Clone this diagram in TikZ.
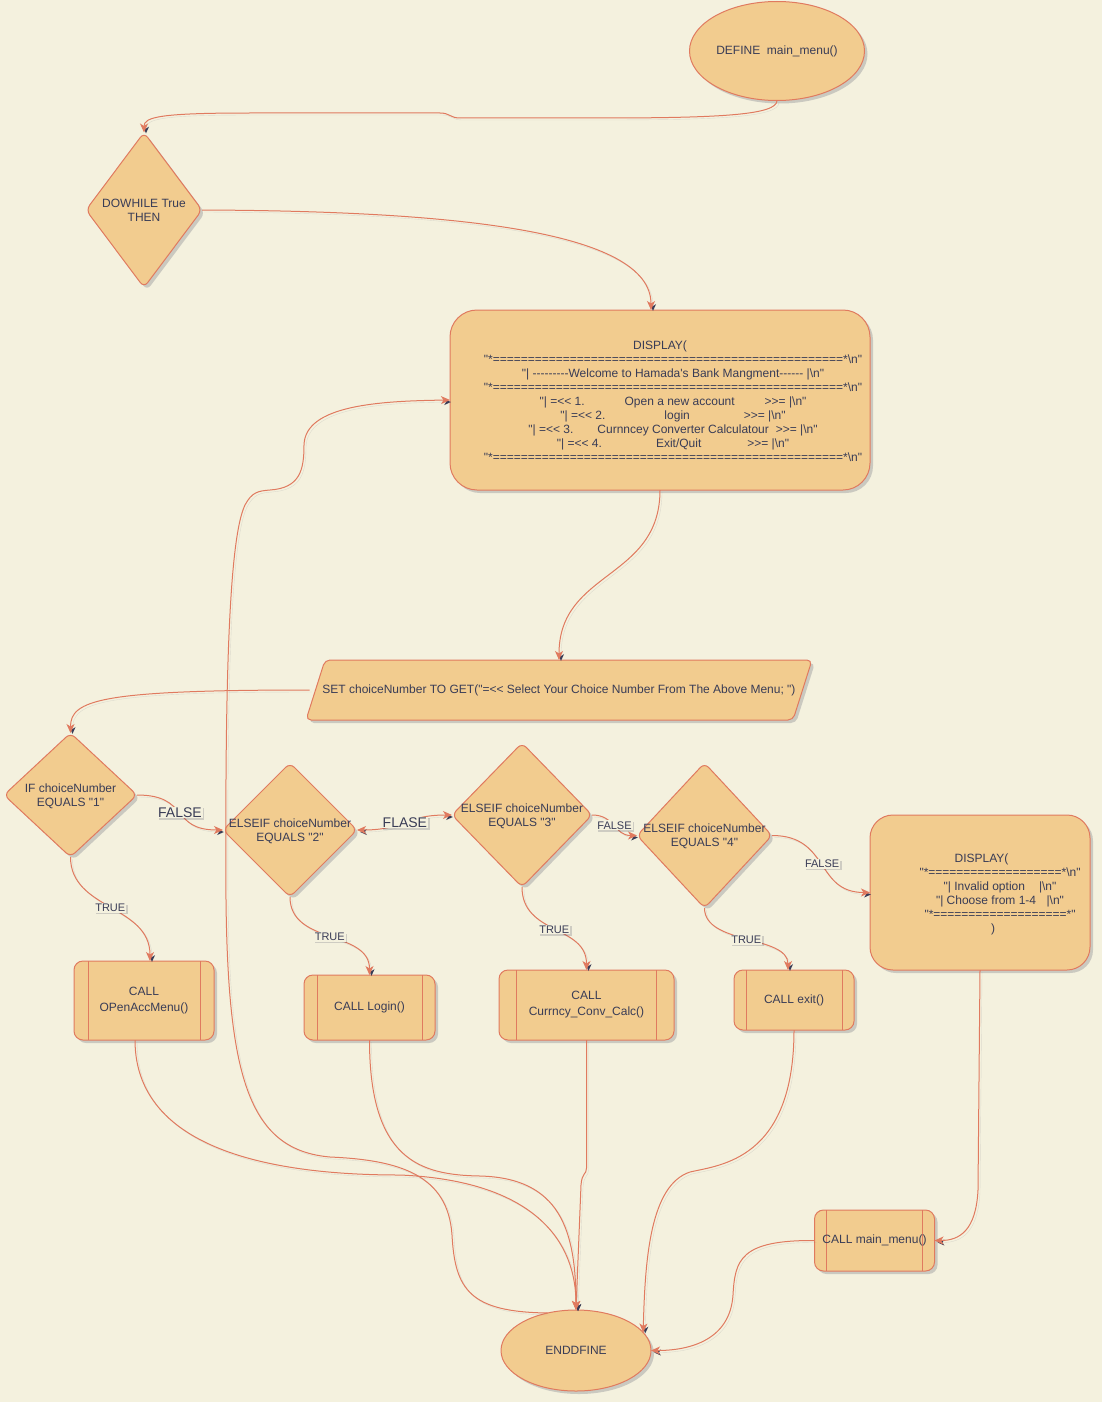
\documentclass[tikz,border=0pt]{standalone}
\usepackage{fontspec}
\setmainfont{Liberation Sans}[Ligatures=TeXOff]
\usetikzlibrary{shapes.geometric,arrows.meta,shadows,backgrounds}

\definecolor{bgc}{HTML}{F4F1DE}
\definecolor{boxfill}{HTML}{F2CC8F}
\definecolor{boxline}{HTML}{E07A5F}
\definecolor{ink}{HTML}{393C56}

\def\eqten{==========}

\tikzset{
  every node/.style={inner sep=0pt, outer sep=0pt, text=ink,
    font=\fontsize{12}{14}\selectfont},
  softshadow/.style={drop shadow={shadow xshift=3pt, shadow yshift=-3pt,
    fill=ink, opacity=0.22}},
  shapebase/.style={draw=boxline, fill=boxfill, line width=1pt, softshadow},
  terminal/.style={shapebase, ellipse},
  decision/.style={shapebase, diamond, rounded corners=6pt},
  panel/.style={shapebase, rectangle, rounded corners=#1},
  callbox/.style={shapebase, rectangle, rounded corners=9pt, align=center,
    font=\fontsize{12}{16}\selectfont,
    path picture={\draw[draw=boxline, line width=1pt]
      ([xshift=#1]path picture bounding box.north west) --
      ([xshift=#1]path picture bounding box.south west)
      ([xshift=-#1]path picture bounding box.north east) --
      ([xshift=-#1]path picture bounding box.south east);}},
  txt/.style={align=center},
  lbl/.style={fill=bgc, inner sep=1pt,
    drop shadow={shadow xshift=1.5pt, shadow yshift=-1.5pt, fill=ink, opacity=0.2},
    font=\fontsize{#1}{#1}\selectfont},
  flow/.style={draw=boxline, line width=1pt,
    >={Stealth[length=9pt, width=8pt, inset=2.5pt]}, ->,
    preaction={draw=ink, draw opacity=0.12,
      transform canvas={xshift=2pt, yshift=-2pt}}},
}

\begin{document}
\begin{tikzpicture}[x=1pt, y=-1pt]
\useasboundingbox (0,0) rectangle (1102,1402);

% ---- start / end ----
\node[terminal, minimum width=175pt, minimum height=99pt] (define) at (777,51)
  {DEFINE\ \ main\_menu()};
\node[terminal, minimum width=150pt, minimum height=81pt] (stop) at (576,1350.5)
  {ENDDFINE};

% ---- loop head ----
\node[decision, minimum width=116pt, minimum height=155pt] (loop) at (144,210) {};
\node[txt] (loopt) at (144,210.5) {DOWHILE True\\THEN};

% ---- main menu display ----
\node[panel=27pt, minimum width=420pt, minimum height=180pt] (menu) at (660,400) {};
\node[txt] (menut) at (673,401) {%
  DISPLAY(\rule{26pt}{0pt}\\
  "*\eqten\eqten\eqten\eqten\eqten*\textbackslash n"\\
  "| ---------Welcome to Hamada's Bank Mangment------ |\textbackslash n"\\
  "*\eqten\eqten\eqten\eqten\eqten*\textbackslash n"\\
  "| =<< 1.\hspace{40pt}Open a new account\hspace{30pt}>>= |\textbackslash n"\\
  "| =<< 2.\hspace{59pt}login\hspace{54pt}>>= |\textbackslash n"\\
  "| =<< 3.\hspace{24pt}Curnncey Converter Calculatour\hspace{7pt}>>= |\textbackslash n"\\
  "| =<< 4.\hspace{54pt}Exit/Quit\hspace{46pt}>>= |\textbackslash n"\\
  "*\eqten\eqten\eqten\eqten\eqten*\textbackslash n"};

% ---- input (parallelogram drawn on the background layer) ----
\node[minimum width=487pt, minimum height=60pt] (ask) at (559,690)
  {SET choiceNumber TO GET("=<< Select Your Choice Number From The Above Menu; ")};

% ---- decisions ----
\node[decision, minimum width=133pt, minimum height=124pt] (q1) at (70.5,795) {};
\node[txt] (q1t) at (70.5,796) {IF choiceNumber\\EQUALS "1"};
\node[decision, minimum width=134pt, minimum height=134pt] (q2) at (290,830) {};
\node[txt] (q2t) at (290,831) {ELSEIF choiceNumber\\EQUALS "2"};
\node[decision, minimum width=140pt, minimum height=144pt] (q3) at (522,815) {};
\node[txt] (q3t) at (522,816) {ELSEIF choiceNumber\\EQUALS "3"};
\node[decision, minimum width=135pt, minimum height=145pt] (q4) at (704.5,835.5) {};
\node[txt] (q4t) at (704.5,836.5) {ELSEIF choiceNumber\\EQUALS "4"};

% ---- invalid option display ----
\node[panel=23pt, minimum width=220pt, minimum height=155pt] (bad) at (980,892.5) {};
\node[txt] (badt) at (1000,894) {%
  DISPLAY(\rule{37pt}{0pt}\\
  "*\eqten=========*\textbackslash n"\\
  "| Invalid option\hspace{14pt}|\textbackslash n"\\
  "| Choose from 1-4\hspace{10.5pt}|\textbackslash n"\\
  "*\eqten=========*"\\
  )\rule{14pt}{0pt}};

% ---- calls ----
\node[callbox=14pt, minimum width=140pt, minimum height=79pt] (c1) at (144,1000.5)
  {CALL\\OPenAccMenu()};
\node[callbox=13pt, minimum width=131pt, minimum height=65pt] (c2) at (369.5,1007.5)
  {CALL Login()};
\node[callbox=17.5pt, minimum width=175pt, minimum height=70pt] (c3) at (586.5,1005)
  {CALL\\Currncy\_Conv\_Calc()};
\node[callbox=12pt, minimum width=120pt, minimum height=60pt] (c4) at (794,1000)
  {CALL exit()};
\node[callbox=12pt, minimum width=120pt, minimum height=61pt] (again) at (874.5,1240.5)
  {CALL main\_menu()};

\begin{scope}[on background layer]
  \fill[bgc] (0,0) rectangle (1102,1402);
  \path[shapebase, rounded corners=5pt]
    ([xshift=9.5pt]ask.north west) -- ([xshift=9.5pt]ask.north east) --
    ([xshift=-9.5pt]ask.south east) -- ([xshift=-9.5pt]ask.south west) -- cycle;
\end{scope}

% ---- connectors ----
\draw[flow] (define.south) .. controls (777,115) and (720,118) .. (600,118)
  -- (460,118) .. controls (450,118) and (450,113) .. (440,113)
  -- (250,113) .. controls (160,113) and (144,117) .. (loop.north);
\draw[flow] (loop.east) .. controls (450,211) and (651,230) .. ([xshift=-9pt]menu.north);
\draw[flow] (menu.south) .. controls (660,580) and (559,570) .. (ask.north);
\draw[flow] ([xshift=-6pt]ask.west) .. controls (100,690) and (70.5,700) .. (q1.north);

\draw[flow] (q1.east) .. controls (190,795) and (170,830) ..
  node[lbl=14] (f1) {FALSE} (q2.west);
\draw[flow, <->] (q2.east) .. controls (405,830) and (405,815) ..
  node[lbl=14] (f2) {FLASE} (q3.west);
\draw[flow] (q3.east) .. controls (615,815) and (614,835.5) ..
  node[lbl=11] (f3) {FALSE} (q4.west);
\draw[flow] (q4.east) .. controls (830,835.5) and (815,892.5) ..
  node[lbl=11] (f4) {FALSE} (bad.west);

\draw[flow] (q1.south) .. controls (70.5,910) and (150,905) ..
  node[lbl=11] (t1) {TRUE} ([xshift=6pt]c1.north);
\draw[flow] (q2.south) .. controls (290,945) and (369.5,930) ..
  node[lbl=11] (t2) {TRUE} (c2.north);
\draw[flow] (q3.south) .. controls (522,935) and (586.5,925) ..
  node[lbl=11] (t3) {TRUE} (c3.north);
\draw[flow] (q4.south) .. controls (704.5,945) and (788,935) ..
  node[lbl=11] (t4) {TRUE} ([xshift=-6pt]c4.north);

\draw[flow] (bad.south) -- (978,1190) .. controls (976,1230) and (960,1240.5) .. (again.east);
\draw[flow] (again.west) .. controls (740,1240) and (735,1260) .. (733,1295)
  .. controls (730,1340) and (690,1350.5) .. (stop.east);

\draw[flow] ([xshift=-9pt]c1.south) .. controls (135,1160) and (300,1175) .. (400,1175)
  .. controls (520,1180) and (576,1230) .. (stop.north);
\draw[flow] (c2.south) .. controls (369.5,1160) and (420,1175) .. (480,1176)
  .. controls (560,1178) and (576,1230) .. (stop.north);
\draw[flow] (c3.south) -- (586.5,1168) .. controls (586.5,1175) and (582,1172) .. (581,1185)
  -- (stop.north);
\draw[flow] (c4.south) .. controls (794,1160) and (720,1165) .. (690,1172)
  .. controls (650,1185) and (645,1260) .. (stop.15);

% loop back from the end to the menu
\draw[flow] (stop.127) .. controls (470,1312) and (455,1290) .. (452,1235)
  .. controls (448,1175) and (400,1160) .. (330,1157)
  .. controls (250,1150) and (228,1080) .. (226,900)
  .. controls (225,700) and (228,540) .. (245,505)
  .. controls (252,492) and (258,491) .. (270,490)
  .. controls (300,488) and (304,470) .. (304,445)
  .. controls (305,405) and (380,401) .. (menu.west);
\end{tikzpicture}
\end{document}
